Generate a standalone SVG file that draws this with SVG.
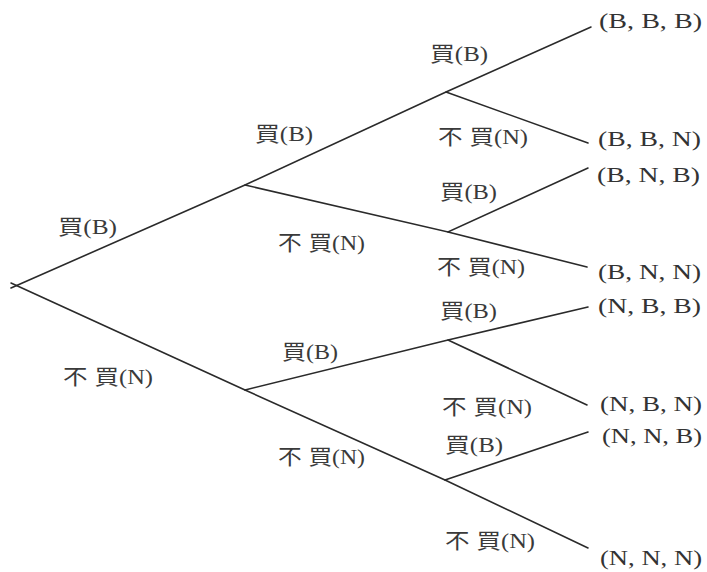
<svg xmlns="http://www.w3.org/2000/svg" width="707" height="572" viewBox="0 0 707 572">
<style>
  .edge { stroke: #2a2a2a; stroke-width: 1.6; fill: none; stroke-linecap: round; }
  .lbl { font-family: "Liberation Serif", "Noto Sans CJK TC", serif; font-size: 21px; fill: #3a3a3a; }
  .leaf { font-family: "Liberation Serif", "Noto Sans CJK TC", serif; font-size: 21px; fill: #333; }
  .gap { letter-spacing: 6px; }
</style>
<rect width="707" height="572" fill="#ffffff"/>
<g id="connectors">
  <polyline class="edge" points="11,288 245,185 446,92 591,27"/>
  <line class="edge" x1="446" y1="92" x2="588" y2="143"/>
  <polyline class="edge" points="245,185 448,232 588,168"/>
  <line class="edge" x1="448" y1="232" x2="587" y2="267"/>
  <polyline class="edge" points="11,283 245,390 445,480 588,548"/>
  <polyline class="edge" points="245,390 448,340 588,307"/>
  <line class="edge" x1="448" y1="340" x2="587" y2="405"/>
  <line class="edge" x1="445" y1="480" x2="588" y2="432"/>
</g>
<g id="edge-labels">
  <text class="lbl" x="58" y="234" textLength="59" lengthAdjust="spacingAndGlyphs" fill="#555">買(B)</text>
  <text class="lbl" x="255" y="141" textLength="58" lengthAdjust="spacingAndGlyphs" fill="#555">買(B)</text>
  <text class="lbl" x="278" y="250" textLength="87" lengthAdjust="spacingAndGlyphs"><tspan class="gap">不</tspan>買(N)</text>
  <text class="lbl" x="430" y="61" textLength="58" lengthAdjust="spacingAndGlyphs">買(B)</text>
  <text class="lbl" x="438" y="144" textLength="90" lengthAdjust="spacingAndGlyphs"><tspan class="gap">不</tspan>買(N)</text>
  <text class="lbl" x="440" y="199" textLength="57" lengthAdjust="spacingAndGlyphs">買(B)</text>
  <text class="lbl" x="437" y="274" textLength="88" lengthAdjust="spacingAndGlyphs"><tspan class="gap">不</tspan>買(N)</text>
  <text class="lbl" x="63" y="384" textLength="90" lengthAdjust="spacingAndGlyphs"><tspan class="gap">不</tspan>買(N)</text>
  <text class="lbl" x="282" y="359" textLength="56" lengthAdjust="spacingAndGlyphs">買(B)</text>
  <text class="lbl" x="278" y="464" textLength="87" lengthAdjust="spacingAndGlyphs"><tspan class="gap">不</tspan>買(N)</text>
  <text class="lbl" x="440" y="318" textLength="57" lengthAdjust="spacingAndGlyphs">買(B)</text>
  <text class="lbl" x="442" y="414" textLength="90" lengthAdjust="spacingAndGlyphs"><tspan class="gap">不</tspan>買(N)</text>
  <text class="lbl" x="445" y="452" textLength="58" lengthAdjust="spacingAndGlyphs">買(B)</text>
  <text class="lbl" x="445" y="548" textLength="90" lengthAdjust="spacingAndGlyphs"><tspan class="gap">不</tspan>買(N)</text>
</g>
<g id="leaf-BBB"><text class="leaf" x="599" y="28" textLength="103" lengthAdjust="spacingAndGlyphs">(B, B, B)</text></g>
<g id="leaf-BBN"><text class="leaf" x="598" y="146" textLength="103" lengthAdjust="spacingAndGlyphs">(B, B, N)</text></g>
<g id="leaf-BNB"><text class="leaf" x="597" y="182" textLength="103" lengthAdjust="spacingAndGlyphs">(B, N, B)</text></g>
<g id="leaf-BNN"><text class="leaf" x="598" y="279" textLength="103" lengthAdjust="spacingAndGlyphs">(B, N, N)</text></g>
<g id="leaf-NBB"><text class="leaf" x="598" y="313" textLength="103" lengthAdjust="spacingAndGlyphs">(N, B, B)</text></g>
<g id="leaf-NBN"><text class="leaf" x="600" y="411" textLength="102" lengthAdjust="spacingAndGlyphs">(N, B, N)</text></g>
<g id="leaf-NNB"><text class="leaf" x="602" y="443" textLength="100" lengthAdjust="spacingAndGlyphs">(N, N, B)</text></g>
<g id="leaf-NNN"><text class="leaf" x="600" y="565" textLength="102" lengthAdjust="spacingAndGlyphs">(N, N, N)</text></g>
</svg>
